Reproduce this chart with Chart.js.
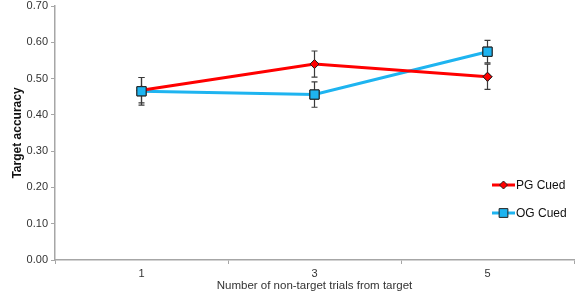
<!DOCTYPE html>
<html>
<head>
<meta charset="utf-8">
<script src="https://cdn.jsdelivr.net/npm/chart.js@4"></script>
<style>
  html, body { margin: 0; padding: 0; background: #fff; }
  #wrap { width: 577px; height: 297px; position: relative; }
</style>
</head>
<body>
<div id="wrap"><canvas id="accChart"></canvas></div>
<script>
const categories = ['1', '3', '5'];
const pgCued = [0.468, 0.540, 0.505];
const pgErr = [0.035, 0.036, 0.035];
const ogCued = [0.465, 0.456, 0.574];
const ogErr = [0.038, 0.035, 0.031];
const yTicks = [0, 0.1, 0.2, 0.3, 0.4, 0.5, 0.6, 0.7];

const axisGrey = '#a6a6a6';
const textColor = '#333333';

// Error bars, with the markers redrawn on top of them
const errorBars = {
  id: 'errorBars',
  afterDatasetsDraw(chart) {
    const { ctx, scales: { x, y } } = chart;
    const errs = [pgErr, ogErr];
    ctx.save();
    ctx.strokeStyle = '#3a3a3a';
    ctx.lineWidth = 1.2;
    chart.data.datasets.forEach((ds, i) => {
      ds.data.forEach((v, j) => {
        const px = x.getPixelForValue(j);
        const top = y.getPixelForValue(v + errs[i][j]);
        const bot = y.getPixelForValue(v - errs[i][j]);
        ctx.beginPath();
        ctx.moveTo(px, top); ctx.lineTo(px, bot);
        ctx.moveTo(px - 3, top); ctx.lineTo(px + 3, top);
        ctx.moveTo(px - 3, bot); ctx.lineTo(px + 3, bot);
        ctx.stroke();
      });
    });
    ctx.restore();
    chart.data.datasets.forEach((ds, i) => {
      const meta = chart.getDatasetMeta(i);
      meta.data.forEach(pt => pt.draw(ctx, chart.chartArea));
    });
  }
};

// Legend inside the plot, lower right
const insideLegend = {
  id: 'insideLegend',
  afterDraw(chart) {
    const { ctx } = chart;
    const items = [
      { label: 'PG Cued', color: '#ff0000', style: 'rectRot', r: 4, y: 185 },
      { label: 'OG Cued', color: '#1eb4f0', style: 'rect', r: 6.2, y: 213 }
    ];
    ctx.save();
    items.forEach(it => {
      ctx.strokeStyle = it.color;
      ctx.lineWidth = 3;
      ctx.beginPath();
      ctx.moveTo(492, it.y); ctx.lineTo(515, it.y);
      ctx.stroke();
      ctx.fillStyle = it.color;
      ctx.strokeStyle = '#222';
      ctx.lineWidth = 1;
      Chart.helpers.drawPoint(ctx, { pointStyle: it.style, radius: it.r, borderWidth: 1 }, 503.5, it.y);
      ctx.fillStyle = '#111';
      ctx.font = '12px "Liberation Sans", Arial, sans-serif';
      ctx.textBaseline = 'middle';
      ctx.fillText(it.label, 516, it.y + 1);
    });
    ctx.restore();
  }
};

new Chart(document.getElementById('accChart'), {
  type: 'line',
  data: {
    labels: categories,
    datasets: [
      {
        label: 'PG Cued',
        data: pgCued,
        borderColor: '#ff0000',
        borderWidth: 3,
        pointStyle: 'rectRot',
        pointRadius: 4.5,
        pointBackgroundColor: '#ff0000',
        pointBorderColor: '#222',
        pointBorderWidth: 1
      },
      {
        label: 'OG Cued',
        data: ogCued,
        borderColor: '#1eb4f0',
        borderWidth: 3,
        pointStyle: 'rect',
        pointRadius: 6.5,
        pointBackgroundColor: '#1eb4f0',
        pointBorderColor: '#222',
        pointBorderWidth: 1
      }
    ]
  },
  options: {
    responsive: true,
    maintainAspectRatio: false,
    animation: false,
    layout: { autoPadding: false, padding: { top: 6, right: 3, left: 0, bottom: 0 } },
    plugins: {
      legend: { display: false },
      tooltip: { enabled: false }
    },
    scales: {
      x: {
        offset: true,
        grid: { display: true, drawOnChartArea: false, offset: true, tickLength: 4, color: axisGrey, lineWidth: 1 },
        border: { color: axisGrey, width: 1.5 },
        ticks: { color: textColor, font: { family: 'Liberation Sans', size: 11 }, padding: 3 },
        title: { display: true, text: 'Number of non-target trials from target', color: textColor,
                 font: { family: 'Liberation Sans', size: 11.5 }, padding: { top: 2, bottom: 4 } },
        afterFit(scale) { scale.height = 37; }
      },
      y: {
        min: 0,
        max: 0.7,
        afterBuildTicks(scale) { scale.ticks = yTicks.map(v => ({ value: v })); },
        grid: { display: true, drawOnChartArea: false, tickLength: 4, color: axisGrey, lineWidth: 1 },
        border: { color: axisGrey, width: 1.5 },
        ticks: { color: textColor, font: { family: 'Liberation Sans', size: 11 }, padding: 3,
                 callback: v => v.toFixed(2) },
        title: { display: true, text: 'Target accuracy', color: '#111',
                 font: { family: 'Liberation Sans', size: 12, weight: 'bold' }, padding: { top: 10, bottom: 4 } },
        afterFit(scale) { scale.width = 55; scale.paddingTop = 0; scale.paddingBottom = 0; }
      }
    }
  },
  plugins: [errorBars, insideLegend]
});
</script>
</body>
</html>
